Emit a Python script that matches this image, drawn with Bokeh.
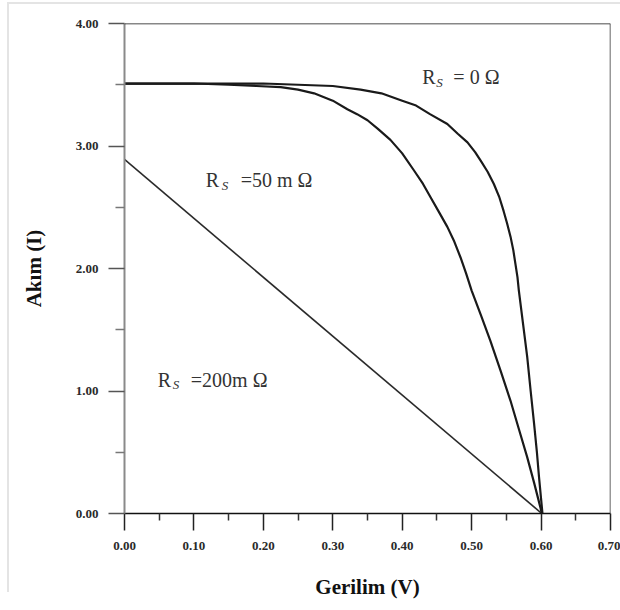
from bokeh.plotting import figure
from bokeh.models import (FixedTicker, NumeralTickFormatter, Span, Label, Range1d)
from bokeh.embed import file_html
from bokeh.resources import INLINE

# ---- data ----
v_rs0 = [0.00, 0.10, 0.20, 0.25, 0.30, 0.34, 0.37, 0.40, 0.42, 0.44, 0.465,
         0.48, 0.494, 0.505, 0.513, 0.523, 0.532, 0.540, 0.546, 0.551, 0.556,
         0.560, 0.563, 0.566, 0.568, 0.574, 0.580, 0.585, 0.590, 0.594, 0.597,
         0.600, 0.602]
i_rs0 = [3.51, 3.51, 3.51, 3.50, 3.49, 3.46, 3.43, 3.37, 3.33, 3.26, 3.18,
         3.10, 3.03, 2.95, 2.88, 2.79, 2.69, 2.58, 2.47, 2.37, 2.26,
         2.15, 2.04, 1.93, 1.82, 1.55, 1.28, 1.00, 0.73, 0.50, 0.30,
         0.12, 0.00]

v_rs50 = [0.00, 0.10, 0.15, 0.19, 0.225, 0.25, 0.273, 0.30, 0.321, 0.335,
          0.350, 0.365, 0.383, 0.40, 0.417, 0.43, 0.441, 0.453, 0.465, 0.475,
          0.484, 0.492, 0.500, 0.514, 0.527, 0.542, 0.556, 0.568, 0.580, 0.590,
          0.599, 0.601]
i_rs50 = [3.51, 3.51, 3.50, 3.49, 3.48, 3.46, 3.43, 3.37, 3.30, 3.26,
          3.21, 3.14, 3.05, 2.94, 2.80, 2.69, 2.58, 2.46, 2.34, 2.22,
          2.09, 1.96, 1.82, 1.61, 1.41, 1.16, 0.92, 0.69, 0.46, 0.25,
          0.05, 0.00]

v_rs200 = [0.00, 0.601]
i_rs200 = [2.89, 0.00]

x_ticks = [0.0, 0.1, 0.2, 0.3, 0.4, 0.5, 0.6, 0.7]
x_minor = [0.05, 0.15, 0.25, 0.35, 0.45, 0.55, 0.65]
y_ticks = [0.0, 1.0, 2.0, 3.0, 4.0]
y_minor = [0.5, 1.5, 2.5, 3.5]

# label anchors (V, I) and their texts
lab_pos = [(0.429, 3.56), (0.117, 2.72), (0.048, 1.09)]
lab_rest = ["= 0 \u03A9", "=50 m \u03A9", "=200m \u03A9"]
lab_sub_dx = [14, 16, 15]
lab_rest_dx = [31, 35, 33]

SERIF = "Liberation Serif"

page_bg = ("linear-gradient(#e4e4e4,#e4e4e4) 8px 2px / 612px 2px no-repeat, "
           "linear-gradient(#e4e4e4,#e4e4e4) 7px 2px / 2px 590px no-repeat, white")

p = figure(width=620, height=610, output_backend="svg", toolbar_location=None,
           x_range=Range1d(0, 0.7), y_range=Range1d(0, 4.0),
           min_border_left=124, min_border_right=10, min_border_top=23,
           min_border_bottom=97, styles={"background": page_bg})
p.outline_line_color = None
p.grid.visible = False
p.background_fill_color = "white"
p.border_fill_color = None

# x axis
xa = p.xaxis[0]
xa.ticker = FixedTicker(ticks=x_ticks, minor_ticks=x_minor)
xa.formatter = NumeralTickFormatter(format="0.00")
xa.axis_line_color = "#111111"
xa.axis_line_width = 1.5
xa.major_tick_line_color = "#222222"
xa.major_tick_line_width = 1.5
xa.major_tick_out = 17
xa.major_tick_in = 0
xa.minor_tick_line_color = "#333333"
xa.minor_tick_line_width = 1.5
xa.minor_tick_out = 7
xa.minor_tick_in = 0
xa.major_label_text_font = SERIF
xa.major_label_text_font_style = "bold"
xa.major_label_text_font_size = "13px"
xa.major_label_text_color = "#2a2a2a"
xa.major_label_standoff = 11
xa.axis_label = "Gerilim (V)"
xa.axis_label_text_font = SERIF
xa.axis_label_text_font_style = "bold"
xa.axis_label_text_font_size = "21px"
xa.axis_label_text_color = "#111111"
xa.axis_label_standoff = 22

# y axis
ya = p.yaxis[0]
ya.ticker = FixedTicker(ticks=y_ticks, minor_ticks=y_minor)
ya.formatter = NumeralTickFormatter(format="0.00")
ya.axis_line_color = "#8a8a8a"
ya.axis_line_width = 2
ya.major_tick_line_color = "#555555"
ya.major_tick_line_width = 1.5
ya.major_tick_out = 16
ya.major_tick_in = 0
ya.minor_tick_line_color = "#777777"
ya.minor_tick_line_width = 1.5
ya.minor_tick_out = 9
ya.minor_tick_in = 0
ya.major_label_text_font = SERIF
ya.major_label_text_font_style = "bold"
ya.major_label_text_font_size = "13px"
ya.major_label_text_color = "#2a2a2a"
ya.major_label_standoff = 10
ya.axis_label = "Ak\u0131m (I)"
ya.axis_label_text_font = SERIF
ya.axis_label_text_font_style = "bold"
ya.axis_label_text_font_size = "21px"
ya.axis_label_text_color = "#111111"
ya.axis_label_standoff = 27

# frame top and right edges
p.add_layout(Span(location=4.0, dimension="width", line_color="#111111", line_width=1.5))
p.add_layout(Span(location=0.7, dimension="height", line_color="#333333", line_width=1.5))

# curves
p.line(v_rs200, i_rs200, line_color="#2a2a2a", line_width=1.6)
p.line(v_rs50, i_rs50, line_color="#1a1a1a", line_width=2.2, line_join="round")
p.line(v_rs0, i_rs0, line_color="#1a1a1a", line_width=2.2, line_join="round")

# labels  R_S = ...
for (lx, ly), rest, sdx, rdx in zip(lab_pos, lab_rest, lab_sub_dx, lab_rest_dx):
    p.add_layout(Label(x=lx, y=ly, text="R", text_font=SERIF, text_font_size="20px",
                       text_color="#333333", text_baseline="alphabetic", text_align="left"))
    p.add_layout(Label(x=lx, y=ly, x_offset=sdx, y_offset=-5, text="S", text_font=SERIF,
                       text_font_size="13px", text_font_style="italic",
                       text_color="#333333", text_baseline="alphabetic", text_align="left"))
    p.add_layout(Label(x=lx, y=ly, x_offset=rdx, text=rest, text_font=SERIF,
                       text_font_size="20px", text_color="#333333",
                       text_baseline="alphabetic", text_align="left"))

open("out.html", "w").write(file_html(p, INLINE))
